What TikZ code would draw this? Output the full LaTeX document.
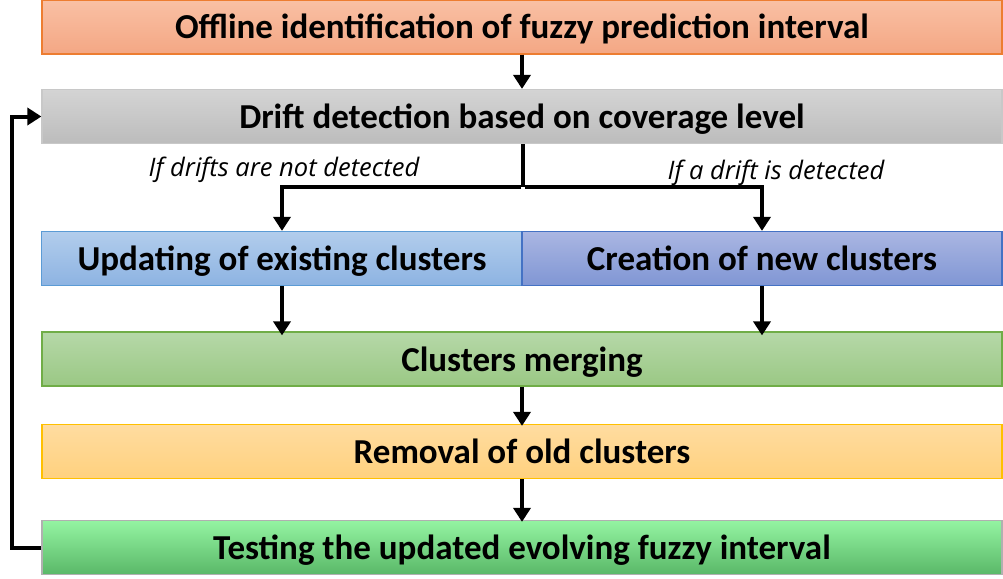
\documentclass[tikz,border=0pt]{standalone}
\usepackage{fontspec}
\setmainfont{Carlito}
\newfontfamily\labelfont{Open Sans}
\usetikzlibrary{arrows.meta}
\definecolor{orTop}{HTML}{F9C0A4}
\definecolor{orBot}{HTML}{F4A784}
\definecolor{orLine}{HTML}{ED7D31}
\definecolor{grTop}{HTML}{D4D4D4}
\definecolor{grBot}{HTML}{BCBCBC}
\definecolor{grLine}{HTML}{C8C8C8}
\definecolor{lbTop}{HTML}{B2CDEC}
\definecolor{lbBot}{HTML}{8DB3E2}
\definecolor{lbLine}{HTML}{5B9BD5}
\definecolor{dbTop}{HTML}{AAB6E2}
\definecolor{dbBot}{HTML}{8096D4}
\definecolor{dbLine}{HTML}{4472C4}
\definecolor{gnTop}{HTML}{B6D8A8}
\definecolor{gnBot}{HTML}{9AC884}
\definecolor{gnLine}{HTML}{70AD47}
\definecolor{ylTop}{HTML}{FFDCA0}
\definecolor{ylBot}{HTML}{FFD17E}
\definecolor{ylLine}{HTML}{FFC000}
\definecolor{bgTop}{HTML}{94F4A2}
\definecolor{bgBot}{HTML}{5AB868}
\definecolor{bgLine}{HTML}{B0B0B0}
\tikzset{
  stepbox/.style={draw, line width=1.2pt, minimum height=54pt, inner sep=0pt,
    text height=27pt, text depth=3pt,
    font=\bfseries\fontsize{35}{38}\selectfont, text=black},
  flow/.style={line width=4pt, -{Triangle[width=17pt,length=14pt]}},
  plainline/.style={line width=4pt},
  cond/.style={font=\labelfont\itshape\fontsize{25.5}{28}\selectfont, inner sep=0pt}
}
\begin{document}
\begin{tikzpicture}[x=1pt,y=-1pt]
\useasboundingbox (0,0) rectangle (1003,578);
\node[stepbox, minimum width=960pt, draw=orLine, top color=orTop, bottom color=orBot] (offline) at (522,27) {Offline identification of fuzzy prediction interval};
\node[stepbox, minimum width=960pt, draw=grLine, top color=grTop, bottom color=grBot] (drift) at (522,116.5) {Drift detection based on coverage level};
\node[stepbox, minimum width=481pt, draw=lbLine, top color=lbTop, bottom color=lbBot] (update) at (282,258.5) {Updating of existing clusters};
\node[stepbox, minimum width=480pt, draw=dbLine, top color=dbTop, bottom color=dbBot] (create) at (762,258.5) {Creation of new clusters};
\node[stepbox, minimum width=960pt, draw=gnLine, top color=gnTop, bottom color=gnBot] (merge) at (522,359) {Clusters merging};
\node[stepbox, minimum width=960pt, draw=ylLine, top color=ylTop, bottom color=ylBot] (removal) at (522,451.5) {Removal of old clusters};
\node[stepbox, minimum width=960pt, draw=bgLine, top color=bgTop, bottom color=bgBot] (testing) at (522,547.5) {Testing the updated evolving fuzzy interval};
\node[cond] (notdet) at (284,170) {If drifts are not detected};
\node[cond] (det) at (776,173) {If a drift is detected};
\coordinate (split) at (523,187);
\coordinate (loopb) at (12,546);
\coordinate (loopt) at (12,116.5);
\draw[flow] (offline.south -| 522,0) -- (drift.north -| 522,0);
\draw[plainline] (drift.south -| split) -- (split);
\draw[flow] ([xshift=-2pt]split) -| (update.north);
\draw[flow] ([xshift=2pt]split) -| (create.north);
\draw[flow] (update.south) -- ([yshift=-4pt]update.south |- merge.north);
\draw[flow] (create.south) -- ([yshift=-4pt]create.south |- merge.north);
\draw[flow] (merge.south -| 522,0) -- ([yshift=-2pt]removal.north -| 522,0);
\draw[flow] (removal.south -| 522,0) -- ([yshift=-2pt]testing.north -| 522,0);
\draw[flow] (testing.west) -- (testing.west -| loopb) -- (loopt) -- (drift.west);
\end{tikzpicture}
\end{document}
